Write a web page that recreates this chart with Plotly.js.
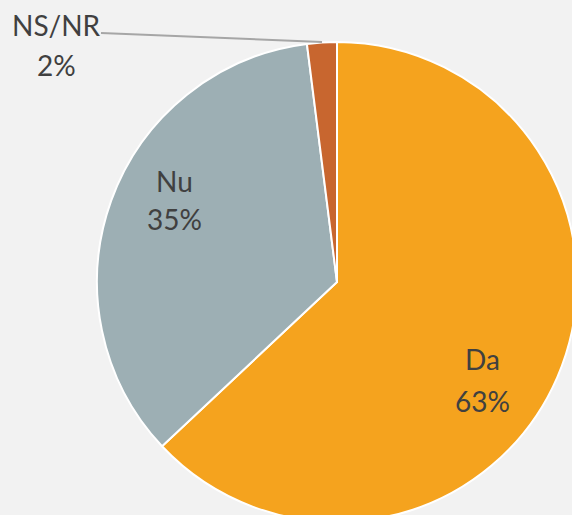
<!DOCTYPE html>
<html><head><meta charset="utf-8">
<script src="https://cdn.plot.ly/plotly-3.0.1.min.js"></script>
<style>html,body{margin:0;padding:0;overflow:hidden;background:#f2f2f2;width:572px;height:515px}#c{position:absolute;left:0;top:0}</style>
</head><body><div id="c"></div>
<script>
const labels = ["Da", "Nu", "NS/NR"];
const values = [63, 35, 2];
const colors = ["#F5A31E", "#9DAFB4", "#C8662F"];

const W = 700, H = 600;
const cx = 337, cy = 282, r = 240;
const trace = {
  type: "pie",
  labels: labels,
  values: values,
  sort: false,
  direction: "clockwise",
  rotation: 0,
  marker: {colors: colors, line: {color: "#ffffff", width: 2}},
  textinfo: "none",
  hoverinfo: "none",
  showlegend: false,
  domain: {x: [(cx - r) / W, (cx + r) / W], y: [1 - (cy + r) / H, 1 - (cy - r) / H]}
};
// label anchor positions in pixels (label line, percent line)
const labelPos = [[482, 359, 401], [174, 181, 219], [56, 25, 65]];
const font = {family: "Lato, 'Open Sans', sans-serif", size: 28, color: "#404040"};
const annotations = [];
labels.forEach((lab, i) => {
  const [x, y1, y2] = labelPos[i];
  annotations.push({xref: "paper", yref: "paper", x: x / W, y: 1 - y1 / H, xanchor: "center", yanchor: "middle",
    text: lab, showarrow: false, font: font});
  annotations.push({xref: "paper", yref: "paper", x: x / W, y: 1 - y2 / H, xanchor: "center", yanchor: "middle",
    text: values[i] + "%", showarrow: false, font: font});
});
const layout = {
  width: W, height: H,
  margin: {l: 0, r: 0, t: 0, b: 0},
  paper_bgcolor: "#f2f2f2",
  plot_bgcolor: "#f2f2f2",
  showlegend: false,
  annotations: annotations,
  shapes: [{
    type: "line", xref: "paper", yref: "paper",
    x0: 101 / W, y0: 1 - 33 / H, x1: 322 / W, y1: 1 - 42 / H,
    line: {color: "#A6A6A6", width: 2}
  }]
};
Plotly.newPlot("c", [trace], layout, {displayModeBar: false, staticPlot: true});
</script></body></html>
